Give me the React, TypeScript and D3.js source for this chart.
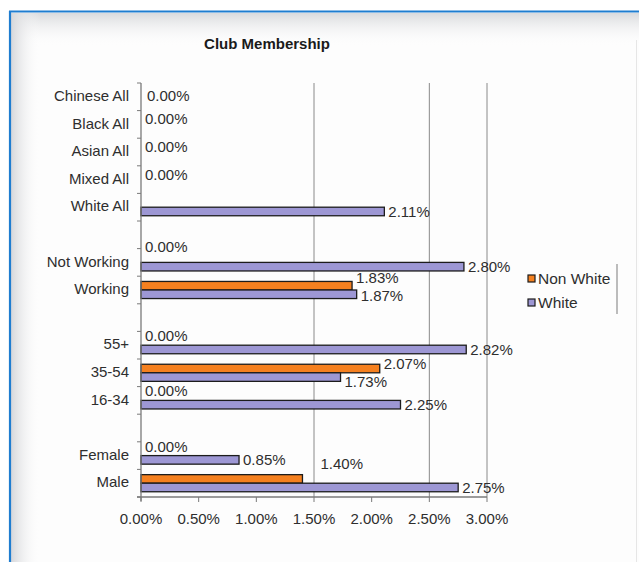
import React from "react";
import * as d3 from "d3";

const categories = [
  "Chinese All", "Black All", "Asian All", "Mixed All", "White All", "",
  "Not Working", "Working", "", "55+", "35-54", "16-34", "", "Female", "Male",
];
const nonWhite: (number | null)[] = [0, 0, 0, 0, null, null, 0, 1.83, null, 0, 2.07, 0, null, 0, 1.4];
const white: (number | null)[] = [null, null, null, null, 2.11, null, 2.8, 1.87, null, 2.82, 1.73, 2.25, null, 0.85, 2.75];
const seriesNames = ["Non White", "White"];
const xTicks = [0, 0.5, 1, 1.5, 2, 2.5, 3];
const gridTicks = [1.5, 2.5, 3];

const W = 639;
const H = 562;
const FONT = "'Liberation Sans', Arial, sans-serif";
const ORANGE = "#f5801f";
const PURPLE = "#9d97d4";
const TEXT = "#2e2e2e";
const FS = 15;

// label nudges [dx, dy] relative to default placement
const nudge: Record<string, [number, number]> = {
  "0-nw": [2, 3],
  "1-nw": [0, -1],
  "2-nw": [0, -1],
  "3-nw": [0, -1],
  "6-nw": [0, -11],
  "7-nw": [0, -8],
  "7-w": [0, 1],
  "10-w": [0, 5],
  "14-nw": [14, -15],
};

export default function App() {
  const plot = { left: 141, right: 487, top: 83, bottom: 497 };
  const x = d3.scaleLinear().domain([0, 3]).range([plot.left, plot.right]);
  const y = d3
    .scaleBand<number>()
    .domain(d3.range(categories.length))
    .range([plot.top, plot.bottom])
    .paddingInner(0.38)
    .paddingOuter(0.19);
  const sub = d3.scaleBand<string>().domain(["nw", "w"]).range([0, y.bandwidth()]);
  const step = y.step();
  const fmt = (v: number) => d3.format(".2f")(v) + "%";

  const bars: { key: string; i: number; s: string; v: number }[] = [];
  categories.forEach((_, i) => {
    if (nonWhite[i] !== null) bars.push({ key: `${i}-nw`, i, s: "nw", v: nonWhite[i] as number });
    if (white[i] !== null) bars.push({ key: `${i}-w`, i, s: "w", v: white[i] as number });
  });

  return (
    <svg
      width={W}
      height={H}
      style={{ position: "absolute", left: 0, top: 0, background: "#fff" }}
      fontFamily={FONT}
    >
      <defs>
        <linearGradient id="shL" x1="0" x2="1" y1="0" y2="0">
          <stop offset="0" stopColor="#d6d7da" />
          <stop offset="1" stopColor="#ffffff" stopOpacity="0" />
        </linearGradient>
        <linearGradient id="shT" x1="0" x2="0" y1="0" y2="1">
          <stop offset="0" stopColor="#d9dadd" />
          <stop offset="1" stopColor="#ffffff" stopOpacity="0" />
        </linearGradient>
      </defs>
      <rect x={0} y={0} width={W} height={H} fill="#ffffff" />
      <rect x={10} y={12} width={W - 10} height={H - 12} fill="#fdfdfd" />
      <rect x={11} y={13} width={W - 11} height={34} fill="url(#shT)" />
      <rect x={11} y={13} width={30} height={H - 13} fill="url(#shL)" />
      <line x1={636.5} x2={636.5} y1={40} y2={H} stroke="#e6e6e6" />
      <line x1={9} x2={W} y1={11.5} y2={11.5} stroke="#1f7dd0" strokeWidth={2.2} />
      <line x1={10} x2={10} y1={11} y2={H} stroke="#1f7dd0" strokeWidth={2.2} />

      <text x={267} y={49} textAnchor="middle" fontWeight="bold" fontSize={15} fill="#1a1a1a">
        Club Membership
      </text>

      {/* gridlines */}
      {gridTicks.map((t) => (
        <line key={t} x1={x(t)} x2={x(t)} y1={plot.top} y2={plot.bottom} stroke="#8a8a8a" strokeWidth={1} />
      ))}

      {/* bars */}
      {bars.map((b) =>
        b.v > 0 ? (
          <rect
            key={b.key}
            x={x(0)}
            y={(y(b.i) as number) + (sub(b.s) as number)}
            width={x(b.v) - x(0)}
            height={sub.bandwidth()}
            fill={b.s === "nw" ? ORANGE : PURPLE}
            stroke="#1c1c1c"
            strokeWidth={1.3}
          />
        ) : null
      )}

      {/* axes */}
      <line x1={plot.left} x2={plot.left} y1={plot.top} y2={plot.bottom + 4} stroke="#7a7a7a" strokeWidth={1.3} />
      <line x1={plot.left - 4} x2={plot.right} y1={plot.bottom} y2={plot.bottom} stroke="#7a7a7a" strokeWidth={1.3} />
      {d3.range(categories.length + 1).map((k) => (
        <line
          key={k}
          x1={plot.left - 4}
          x2={plot.left}
          y1={plot.top + k * step}
          y2={plot.top + k * step}
          stroke="#7a7a7a"
        />
      ))}
      {xTicks.map((t) => (
        <line key={t} x1={x(t)} x2={x(t)} y1={plot.bottom} y2={plot.bottom + 5} stroke="#7a7a7a" />
      ))}
      {xTicks.map((t) => (
        <text key={t} x={x(t)} y={519} dy="0.35em" textAnchor="middle" fontSize={FS} fill={TEXT}>
          {fmt(t)}
        </text>
      ))}

      {/* category labels */}
      {categories.map((c, i) =>
        c ? (
          <text
            key={i}
            x={plot.left - 12}
            y={(y(i) as number) + y.bandwidth() / 2 - 1}
            dy="0.35em"
            textAnchor="end"
            fontSize={FS}
            fill={TEXT}
          >
            {c}
          </text>
        ) : null
      )}

      {/* data labels */}
      {bars.map((b) => {
        const [dx, dy] = nudge[b.key] || (b.s === "nw" ? [0, -5] : [0, 0]);
        const cy = (y(b.i) as number) + (sub(b.s) as number) + sub.bandwidth() / 2;
        return (
          <text
            key={"l" + b.key}
            x={x(b.v) + 4 + dx}
            y={cy + dy}
            dy="0.35em"
            fontSize={FS}
            fill={TEXT}
          >
            {fmt(b.v)}
          </text>
        );
      })}

      {/* legend */}
      {seriesNames.map((s, k) => (
        <g key={s} transform={`translate(528, ${275 + k * 24})`}>
          <rect x={0} y={0} width={7} height={7} fill={k === 0 ? ORANGE : PURPLE} stroke="#1c1c1c" strokeWidth={1.2} />
          <text x={10} y={3.5} dy="0.35em" fontSize={15.5} fill={TEXT}>
            {s}
          </text>
        </g>
      ))}
      <line x1={617} x2={617} y1={264} y2={314} stroke="#9a9a9a" strokeWidth={1.3} />
    </svg>
  );
}
